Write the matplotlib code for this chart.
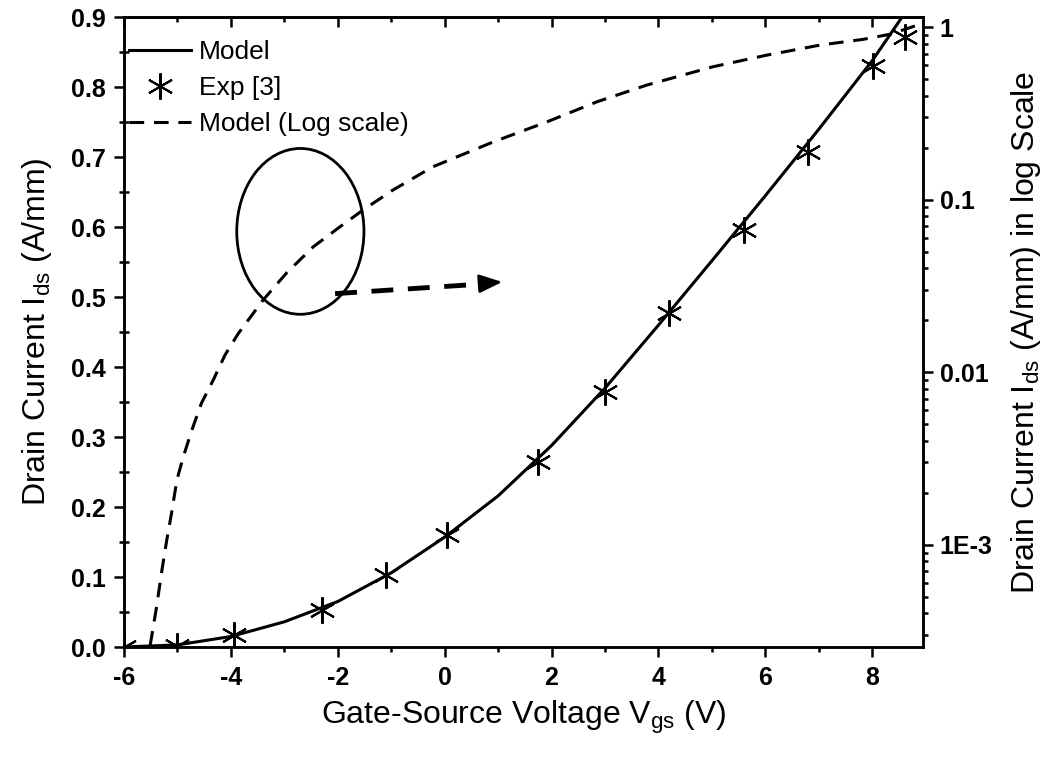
import numpy as np
import matplotlib
matplotlib.use("Agg")
import matplotlib.pyplot as plt
from matplotlib.patches import Ellipse
from matplotlib.ticker import MultipleLocator, FixedLocator, FixedFormatter, LogLocator, NullFormatter

plt.rcParams['font.family'] = ['Liberation Sans', 'DejaVu Sans']
plt.rcParams['mathtext.fontset'] = 'custom'
plt.rcParams['mathtext.rm'] = 'Liberation Sans'
plt.rcParams['mathtext.it'] = 'Liberation Sans'
plt.rcParams['axes.unicode_minus'] = False

# model curve (linear scale)
vgs_model = [-6, -5, -4, -3, -2, -1, 0, 1, 2, 3, 4, 5, 6, 7, 8, 8.6]
ids_model = [0, 0.003, 0.015, 0.036, 0.065, 0.106, 0.157, 0.216, 0.288, 0.37,
             0.46, 0.552, 0.645, 0.74, 0.838, 0.905]

# experimental points [3]
vgs_exp = [-6, -5, -3.95, -2.3, -1.1, 0.05, 1.75, 3, 4.2, 5.6, 6.8, 8.02, 8.62]
ids_exp = [0, 0.001, 0.017, 0.053, 0.103, 0.16, 0.264, 0.364, 0.477, 0.596,
           0.707, 0.831, 0.872]

# model curve plotted on log scale (right axis)
vgs_log = [-5.51, -5.39, -5.29, -5.2, -5.11, -5.01, -4.89, -4.73, -4.55, -4.33,
           -4.11, -3.86, -3.4, -2.96, -2.46, -1.96, -1.53, -0.97, -0.22, 0.91,
           1.91, 2.85, 3.78, 5.02, 6.03, 7.03, 7.83, 8.34, 8.86]
ids_log = [2.6e-4, 4.36e-4, 7.11e-4, 1.06e-3, 1.52e-3, 2.37e-3, 3.23e-3, 4.61e-3,
           6.61e-3, 8.99e-3, 0.01256, 0.01676, 0.0261, 0.0375, 0.0532, 0.0695,
           0.0869, 0.1135, 0.155, 0.216, 0.282, 0.369, 0.461, 0.589, 0.688,
           0.787, 0.849, 0.91, 1.03]

fig = plt.figure(figsize=(10.47, 7.61), dpi=100)
ax = fig.add_axes([0.1184, 0.1498, 0.7632, 0.8275])
ax2 = ax.twinx()

l1, = ax.plot(vgs_model, ids_model, color='black', lw=2.2, zorder=3)
l2, = ax.plot(vgs_exp, ids_exp, linestyle='none', marker=(6, 2, 0), ms=19,
              mec='black', mew=1.5, color='black', zorder=4)
l3, = ax2.plot(vgs_log, ids_log, color='black', lw=2.2, dashes=(4.8, 3.2))

ax.set_xlim(-6, 8.95)
ax.set_ylim(0, 0.9)
ax2.set_yscale('log')
ax2.set_ylim(2.55e-4, 1.14)

# annotation: ellipse + dashed arrow
ax.add_patch(Ellipse((-2.7, 0.594), 2.38, 0.237, fill=False, lw=2, color='black', zorder=5))
ax.plot([-2.05, 0.75], [0.505, 0.519], color='black', lw=3.5, dashes=(4.5, 3), zorder=5)
ax.annotate('', xy=(1.13, 0.522), xytext=(0.6, 0.519),
            arrowprops=dict(arrowstyle='-|>,head_length=0.7,head_width=0.28',
                            color='black', lw=2, mutation_scale=20), zorder=5)

for a in (ax, ax2):
    for s in a.spines.values():
        s.set_linewidth(1.8)

ax.xaxis.set_major_locator(MultipleLocator(2))
ax.xaxis.set_minor_locator(MultipleLocator(1))
ax.yaxis.set_major_locator(MultipleLocator(0.1))
ax.yaxis.set_minor_locator(MultipleLocator(0.05))
ax.yaxis.set_major_formatter(matplotlib.ticker.FormatStrFormatter('%.1f'))
ax.tick_params(axis='both', which='major', direction='out', length=7, width=1.8,
               labelsize=18)
ax.tick_params(axis='x', which='major', pad=7)
ax.tick_params(axis='y', which='major', pad=6)
ax.tick_params(axis='both', which='minor', direction='out', length=3.5, width=1.8)
ax.tick_params(axis='y', which='minor', direction='inout', length=7)
for lab in ax.get_xticklabels() + ax.get_yticklabels():
    lab.set_fontweight('bold')

top = ax.secondary_xaxis('top')
top.xaxis.set_major_locator(MultipleLocator(2))
top.xaxis.set_minor_locator(MultipleLocator(1))
top.tick_params(which='major', direction='in', length=7, width=1.8, labeltop=False)
top.tick_params(which='minor', direction='in', length=3.5, width=1.8)
top.spines['top'].set_linewidth(1.8)

ax2.yaxis.set_major_locator(FixedLocator([1e-3, 1e-2, 1e-1, 1]))
ax2.yaxis.set_major_formatter(FixedFormatter(['1E-3', '0.01', '0.1', '1']))
ax2.yaxis.set_minor_locator(LogLocator(base=10, subs=np.arange(2, 10)))
ax2.yaxis.set_minor_formatter(NullFormatter())
ax2.tick_params(axis='y', which='major', direction='out', length=7, width=1.8,
                labelsize=18, pad=5)
ax2.tick_params(axis='y', which='minor', direction='out', length=3.5, width=1.8)
for lab in ax2.get_yticklabels():
    lab.set_fontweight('bold')

ax.set_xlabel(r'Gate-Source Voltage V$_{\mathrm{gs}}$ (V)', fontsize=23, labelpad=6)
ax.set_ylabel(r'Drain Current I$_{\mathrm{ds}}$ (A/mm)', fontsize=23, labelpad=12)
ax2.set_ylabel(r'Drain Current I$_{\mathrm{ds}}$ (A/mm) in log Scale', fontsize=23,
               labelpad=12)

ax.legend([l1, l2, l3], ['Model', 'Exp [3]', 'Model (Log scale)'],
          loc='upper left', bbox_to_anchor=(0.0, 0.972), frameon=False,
          fontsize=19, handlelength=2.35, handletextpad=0.28, labelspacing=0.45,
          borderpad=0.2, borderaxespad=0)

fig.savefig('out.png', dpi=100)
